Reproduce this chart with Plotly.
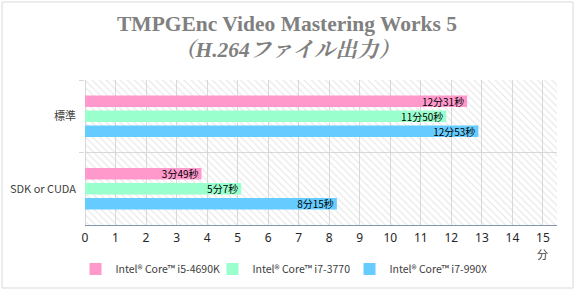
import plotly.graph_objects as go

# Encode times (minutes) for each task and CPU
categories = ["標準", "SDK or CUDA"]
cpus = ["Intel® Core™ i5-4690K", "Intel® Core™ i7-3770", "Intel® Core™ i7-990X"]
minutes = [[12, 3], [11, 5], [12, 8]]
seconds = [[31, 49], [50, 7], [53, 15]]
colors = ["#FF99CC", "#99FFCC", "#66CCFF"]
x_ticks = list(range(0, 16))
x_max = 15.46
title_lines = ["TMPGEnc Video Mastering Works 5", "（H.264ファイル出力）"]

W, H = 576, 291
L, R, T, B = 85, 19, 80, 66
PW, PH = W - L - R, H - T - B


def px_x(px):
    """pixel column -> paper x"""
    return (px - L) / PW


def px_y(py):
    """pixel row -> paper y"""
    return (H - B - py) / PH


fig = go.Figure()

# hatched plot-area background on the main (hidden) y axis
fig.add_trace(go.Bar(
    x=[x_max], y=[0.5], base=[0], width=[1], orientation="h",
    xaxis="x", yaxis="y", showlegend=False, hoverinfo="skip",
    marker=dict(color="rgba(0,0,0,0)", line=dict(width=0),
                pattern=dict(shape="\\", fgcolor="#D0D0D0", bgcolor="rgba(0,0,0,0)",
                             size=5, solidity=0.22, fillmode="overlay")),
))

for name, mins, secs, col in zip(cpus, minutes, seconds, colors):
    vals = [m + s / 60 for m, s in zip(mins, secs)]
    labels = [f"{m}分{s}秒" for m, s in zip(mins, secs)]
    fig.add_trace(go.Bar(
        name=name, y=categories, x=vals, orientation="h",
        xaxis="x", yaxis="y2",
        marker=dict(color=col, line=dict(width=0)),
        text=labels, textposition="inside", insidetextanchor="end",
        constraintext="none", cliponaxis=False,
        textfont=dict(family="Noto Sans CJK JP", size=10, color="#000000"),
    ))

title_font = dict(family="Liberation Serif, Noto Serif CJK JP, Noto Sans CJK JP",
                  size=21.5, color="#808080")

fig.update_layout(
    width=W, height=H,
    margin=dict(l=L, r=R, t=T, b=B, autoexpand=False),
    paper_bgcolor="white", plot_bgcolor="white",
    barmode="group", bargap=0.38, bargroupgap=0.23,
    xaxis=dict(
        range=[0, x_max], tickvals=x_ticks, ticktext=[str(v) for v in x_ticks],
        automargin=False,
        showgrid=True, gridcolor="#D9D9D9", gridwidth=1,
        zeroline=True, zerolinecolor="#D9D9D9", zerolinewidth=1,
        showline=True, linecolor="#8497B0", linewidth=1,
        ticks="outside", ticklen=2, tickcolor="rgba(0,0,0,0)",
        tickfont=dict(family="Noto Sans", size=12, color="#262626"),
    ),
    yaxis=dict(range=[0, 1], visible=False, fixedrange=True, automargin=False),
    yaxis2=dict(
        overlaying="y", side="left", type="category", automargin=False,
        categoryorder="array", categoryarray=categories, autorange="reversed",
        tickson="boundaries", ticks="outside", ticklen=5, tickcolor="#D9D9D9",
        ticklabelstandoff=8,
        showgrid=True, gridcolor="#D9D9D9", gridwidth=1,
        showline=False, zeroline=False,
        tickfont=dict(family="Noto Sans CJK JP", size=11, color="#404040"),
    ),
    legend=dict(
        orientation="h", xref="container", x=0.5 - 7 / W, xanchor="center",
        yref="container", y=1 - 269 / H, yanchor="middle",
        font=dict(family="Noto Sans CJK JP", size=10.5, color="#404040"),
        itemwidth=30, entrywidth=92, entrywidthmode="pixels",
    ),
    showlegend=True,
    annotations=[
        dict(text=f"<b>{title_lines[0]}</b>", x=px_x(287), y=px_y(24), xref="paper", yref="paper",
             xanchor="center", yanchor="middle", showarrow=False, font=title_font),
        dict(text=f"<b><i>{title_lines[1]}</i></b>", x=px_x(287), y=px_y(50), xref="paper", yref="paper",
             xanchor="center", yanchor="middle", showarrow=False, font=title_font),
        dict(text="分", x=15, xref="x", y=px_y(254), yref="paper",
             xanchor="center", yanchor="middle", showarrow=False,
             font=dict(family="Noto Sans CJK JP", size=11, color="#404040")),
    ],
    shapes=[dict(
        type="rect", xref="paper", yref="paper",
        x0=px_x(2), x1=px_x(573), y0=px_y(288), y1=px_y(2),
        line=dict(color="#D9D9D9", width=1), fillcolor="rgba(0,0,0,0)",
    )],
)

fig.write_html("out.html")
